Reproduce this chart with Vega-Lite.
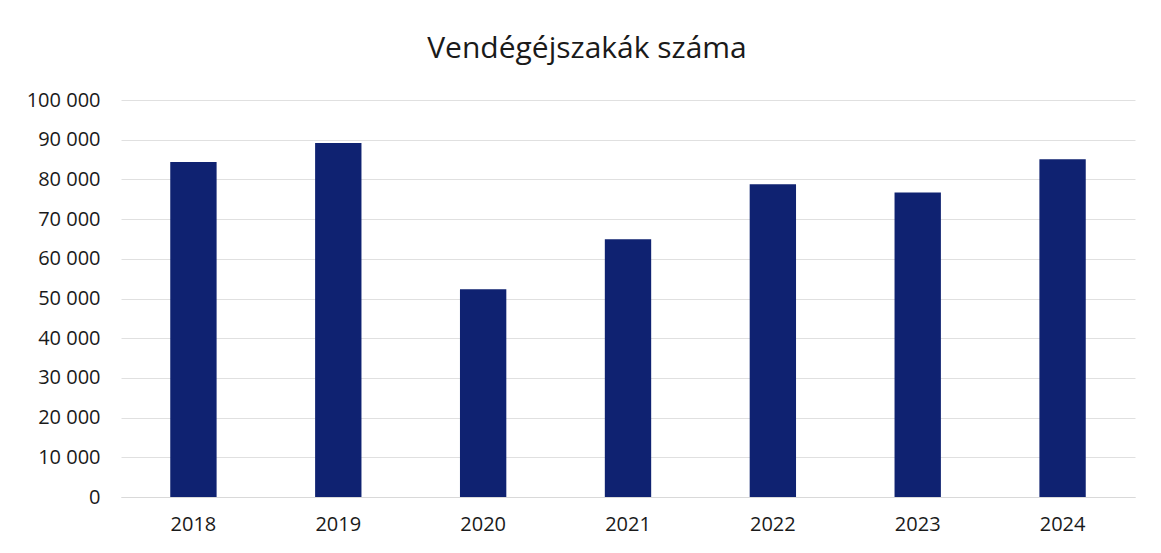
{
  "$schema": "https://vega.github.io/schema/vega-lite/v6.json",
  "autosize": "none",
  "width": 1014,
  "height": 397,
  "padding": {"left": 121, "top": 100, "right": 26, "bottom": 56},
  "background": "white",
  "title": {
    "text": "Vendégéjszakák száma",
    "font": "Open Sans",
    "fontSize": 30,
    "fontWeight": 500,
    "color": "#1a1a1a",
    "anchor": "middle",
    "offset": 26,
    "dx": -41
  },
  "data": {
    "values": [
      {"ev": "2018", "ertek": 84400},
      {"ev": "2019", "ertek": 89200},
      {"ev": "2020", "ertek": 52300},
      {"ev": "2021", "ertek": 64900},
      {"ev": "2022", "ertek": 78800},
      {"ev": "2023", "ertek": 76700},
      {"ev": "2024", "ertek": 85100}
    ]
  },
  "mark": {"type": "bar", "color": "#0f2271"},
  "encoding": {
    "x": {
      "field": "ev",
      "type": "nominal",
      "title": null,
      "scale": {"paddingInner": 0.68, "paddingOuter": 0.34},
      "axis": {
        "labelAngle": 0,
        "labelFont": "Open Sans",
        "labelFontSize": 20,
        "labelColor": "#1a1a1a",
        "labelPadding": 17,
        "ticks": false,
        "domain": true,
        "domainColor": "#d9d9d9",
        "grid": false
      }
    },
    "y": {
      "field": "ertek",
      "type": "quantitative",
      "title": null,
      "scale": {"domain": [0, 100000]},
      "axis": {
        "values": [0, 10000, 20000, 30000, 40000, 50000, 60000, 70000, 80000, 90000, 100000],
        "labelExpr": "replace(format(datum.value, ',d'), regexp(',', 'g'), ' ')",
        "labelFont": "Open Sans",
        "labelFontSize": 20,
        "labelColor": "#1a1a1a",
        "labelPadding": 21,
        "ticks": false,
        "domain": false,
        "grid": true,
        "gridColor": "#e0e0e0",
        "gridWidth": 1
      }
    }
  },
  "config": {"view": {"stroke": null}}
}
